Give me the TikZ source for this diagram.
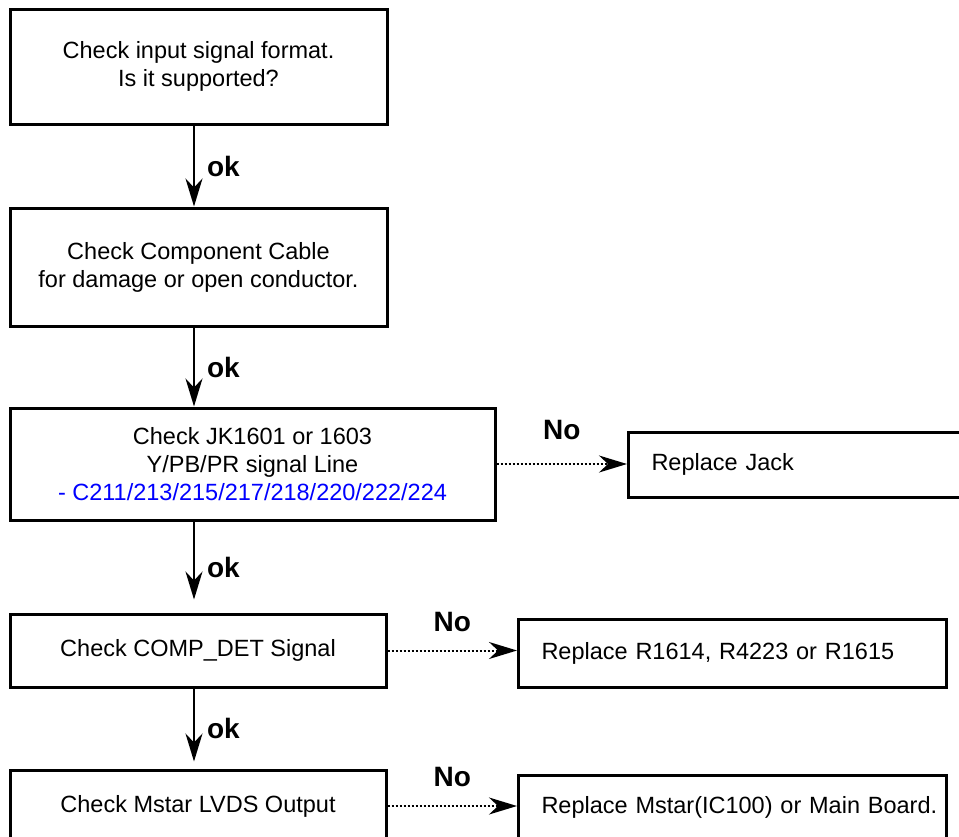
\documentclass[tikz,border=0pt]{standalone}
\usepackage{fontspec}
\setmainfont{Liberation Sans}
\usetikzlibrary{arrows.meta}
\begin{document}
\begin{tikzpicture}[x=1pt, y=-1pt]
    \tikzset{box/.style={draw, line width=3pt, inner sep=0pt, align=center,
               font=\fontsize{23.5}{28}\selectfont},
             rbox/.style={box, anchor=west, inner xsep=23pt, align=left},
             lbl/.style={font=\fontsize{28}{30}\selectfont\bfseries, inner sep=0pt},
             tip/.style={-{Stealth[length=28pt, width=17pt, inset=9pt]}},
             okline/.style={tip, line width=2pt},
             noline/.style={tip, line width=2pt, dash pattern=on 2pt off 2pt}}
    \useasboundingbox (0,0) rectangle (959,836);
    % check boxes
    \node[box, minimum width=377pt, minimum height=115pt] (chk1) at (198.5,66.5)
      {Check input signal format.\\Is it supported?};
    \node[box, minimum width=377pt, minimum height=118pt] (chk2) at (198.5,267)
      {Check Component Cable\\for damage or open conductor.};
    \node[box, minimum width=485pt, minimum height=112pt] (chk3) at (252.5,464)
      {Check JK1601 or 1603\\Y/PB/PR signal Line\\
       \textcolor{blue}{- C211/213/215/217/218/220/222/224}};
    \node[box, minimum width=376pt, minimum height=73pt] (chk4) at (198,650.5)
      {Check COMP\_DET Signal};
    \node[box, minimum width=376pt, minimum height=72pt] (chk5) at (198,806)
      {Check Mstar LVDS Output};
    % replace boxes
    \node[rbox, text width=334pt, minimum height=65pt] (jack) at (627,464.5)
      {Replace Jack};
    \node[rbox, text width=382pt, minimum height=68pt] (repR) at (517,653)
      {Replace R1614, R4223 or R1615};
    \node[rbox, text width=382pt, minimum height=64pt] (repM) at (517,807)
      {\mbox{Replace Mstar(IC100) or Main Board.}};
    % ok arrows
    \coordinate (spine) at (194,0);
    \foreach \a/\b/\s in {chk1/chk2/0, chk2/chk3/0, chk3/chk4/13, chk4/chk5/7}
      \draw[okline, shorten >=\s pt] (\a.south -| spine) -- (\b.north -| spine)
        node[midway, right=12pt, lbl] {ok};
    % no arrows
    \foreach \a/\b/\h in {chk3/jack/23, chk4/repR/18, chk5/repM/18}
      \draw[noline] (\a.east) -- (\a.east -| \b.west)
        node[midway, above=\h pt, lbl] {No};
\end{tikzpicture}
\end{document}
